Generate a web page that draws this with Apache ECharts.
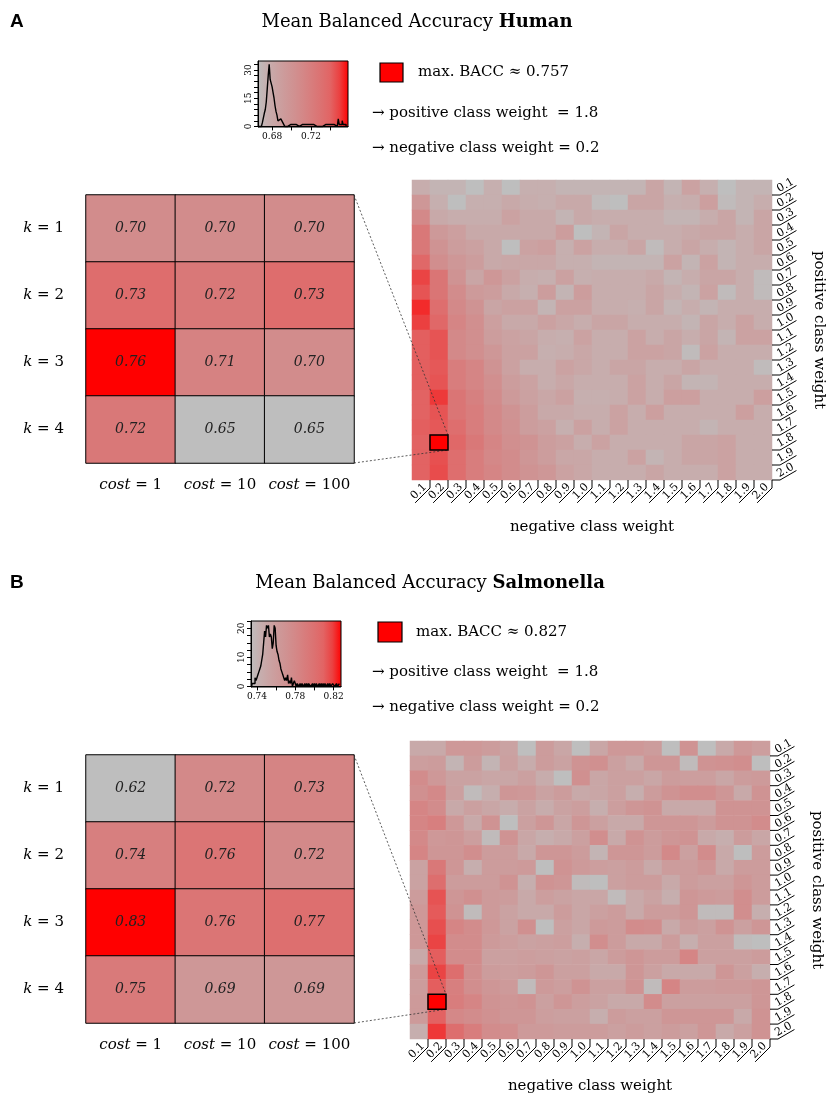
<!DOCTYPE html>
<html><head><meta charset="utf-8">
<script src="https://cdn.jsdelivr.net/npm/echarts@6/dist/echarts.min.js"></script>
<style>html,body{margin:0;padding:0;background:#fff}#c{width:827px;height:1095px}</style>
</head><body><div id="c"></div>
<script>
// ---------------- DATA ----------------
const weightLabels = ['0.1','0.2','0.3','0.4','0.5','0.6','0.7','0.8','0.9','1.0','1.1','1.2','1.3','1.4','1.5','1.6','1.7','1.8','1.9','2.0'];
const kLabels = ['1','2','3','4'];
const costLabels = ['1','10','100'];

const smallHuman = [[0.70,0.70,0.70],[0.73,0.72,0.73],[0.76,0.71,0.70],[0.72,0.65,0.65]];
const smallSalmonella = [[0.62,0.72,0.73],[0.74,0.76,0.72],[0.83,0.76,0.77],[0.75,0.69,0.69]];

// rows: positive class weight 0.1..2.0 ; columns: negative class weight 0.1..2.0
const gridHuman = [
[0.677,0.672,0.672,0.666,0.675,0.666,0.675,0.675,0.672,0.672,0.672,0.672,0.672,0.683,0.672,0.686,0.675,0.666,0.672,0.672],
[0.696,0.675,0.666,0.675,0.675,0.680,0.677,0.675,0.680,0.680,0.668,0.666,0.683,0.683,0.675,0.677,0.689,0.668,0.672,0.677],
[0.710,0.680,0.677,0.677,0.677,0.686,0.680,0.680,0.672,0.680,0.677,0.677,0.677,0.677,0.672,0.672,0.677,0.683,0.672,0.683],
[0.724,0.694,0.689,0.680,0.680,0.680,0.680,0.680,0.691,0.666,0.672,0.683,0.677,0.677,0.677,0.680,0.683,0.683,0.677,0.683],
[0.724,0.700,0.691,0.687,0.680,0.666,0.686,0.689,0.675,0.686,0.677,0.677,0.683,0.668,0.677,0.683,0.677,0.672,0.677,0.683],
[0.736,0.705,0.696,0.691,0.680,0.682,0.682,0.682,0.675,0.675,0.672,0.672,0.672,0.672,0.686,0.672,0.686,0.672,0.677,0.677],
[0.747,0.726,0.700,0.683,0.696,0.687,0.677,0.675,0.687,0.675,0.677,0.677,0.677,0.680,0.672,0.677,0.683,0.683,0.677,0.668],
[0.743,0.726,0.707,0.693,0.691,0.680,0.675,0.691,0.672,0.691,0.677,0.677,0.677,0.683,0.677,0.672,0.686,0.668,0.677,0.668],
[0.751,0.732,0.710,0.700,0.683,0.687,0.687,0.672,0.687,0.687,0.677,0.677,0.675,0.683,0.672,0.677,0.672,0.677,0.677,0.677],
[0.748,0.736,0.713,0.704,0.689,0.680,0.680,0.687,0.682,0.677,0.683,0.683,0.677,0.677,0.677,0.672,0.683,0.677,0.686,0.677],
[0.740,0.743,0.710,0.704,0.691,0.686,0.683,0.677,0.675,0.686,0.677,0.677,0.686,0.677,0.683,0.677,0.683,0.672,0.686,0.686],
[0.740,0.743,0.710,0.704,0.696,0.687,0.687,0.675,0.677,0.682,0.677,0.677,0.686,0.686,0.683,0.668,0.686,0.677,0.677,0.677],
[0.740,0.742,0.720,0.713,0.700,0.687,0.677,0.677,0.686,0.682,0.677,0.683,0.683,0.677,0.677,0.683,0.677,0.677,0.677,0.668],
[0.740,0.743,0.720,0.713,0.704,0.691,0.686,0.677,0.682,0.677,0.677,0.677,0.686,0.677,0.683,0.672,0.672,0.677,0.677,0.677],
[0.739,0.749,0.726,0.717,0.707,0.693,0.687,0.682,0.687,0.675,0.675,0.677,0.686,0.677,0.689,0.689,0.677,0.677,0.677,0.689],
[0.739,0.743,0.726,0.720,0.710,0.700,0.691,0.680,0.680,0.677,0.677,0.686,0.677,0.689,0.677,0.677,0.677,0.677,0.689,0.677],
[0.740,0.742,0.732,0.720,0.710,0.702,0.691,0.687,0.675,0.687,0.677,0.686,0.677,0.677,0.677,0.677,0.672,0.677,0.677,0.677],
[0.739,0.757,0.736,0.724,0.713,0.704,0.700,0.691,0.687,0.677,0.686,0.677,0.677,0.677,0.677,0.683,0.683,0.686,0.677,0.677],
[0.739,0.744,0.732,0.720,0.711,0.707,0.697,0.691,0.682,0.682,0.677,0.677,0.686,0.672,0.677,0.683,0.683,0.686,0.677,0.677],
[0.739,0.745,0.732,0.720,0.713,0.707,0.700,0.696,0.686,0.682,0.677,0.677,0.677,0.683,0.677,0.677,0.677,0.686,0.677,0.677]
];

const gridSalmonella = [
[0.748,0.748,0.764,0.764,0.760,0.754,0.734,0.760,0.751,0.734,0.751,0.764,0.764,0.760,0.734,0.769,0.734,0.748,0.764,0.758],
[0.758,0.760,0.740,0.760,0.740,0.756,0.746,0.760,0.754,0.769,0.772,0.756,0.748,0.766,0.766,0.736,0.769,0.771,0.774,0.734],
[0.776,0.764,0.754,0.754,0.751,0.751,0.756,0.746,0.734,0.772,0.751,0.756,0.756,0.751,0.760,0.758,0.758,0.751,0.760,0.762],
[0.772,0.779,0.756,0.736,0.744,0.766,0.764,0.754,0.760,0.748,0.751,0.756,0.744,0.760,0.769,0.774,0.774,0.766,0.748,0.769],
[0.782,0.776,0.748,0.756,0.751,0.746,0.754,0.746,0.754,0.758,0.744,0.758,0.766,0.769,0.748,0.748,0.748,0.769,0.769,0.769],
[0.782,0.787,0.764,0.748,0.769,0.734,0.756,0.766,0.751,0.766,0.756,0.748,0.748,0.766,0.766,0.766,0.760,0.769,0.769,0.776],
[0.779,0.764,0.766,0.758,0.736,0.769,0.751,0.744,0.748,0.756,0.774,0.748,0.769,0.760,0.766,0.769,0.748,0.744,0.760,0.751],
[0.782,0.766,0.766,0.774,0.760,0.760,0.748,0.766,0.766,0.760,0.740,0.766,0.766,0.760,0.779,0.756,0.776,0.748,0.734,0.760],
[0.754,0.793,0.766,0.744,0.760,0.760,0.762,0.734,0.769,0.762,0.758,0.756,0.760,0.748,0.760,0.760,0.766,0.748,0.760,0.760],
[0.754,0.801,0.760,0.760,0.760,0.769,0.744,0.769,0.766,0.736,0.734,0.756,0.760,0.760,0.748,0.760,0.756,0.756,0.766,0.760],
[0.760,0.813,0.766,0.772,0.762,0.760,0.748,0.758,0.754,0.751,0.751,0.736,0.748,0.754,0.744,0.766,0.762,0.760,0.774,0.760],
[0.764,0.811,0.769,0.736,0.762,0.754,0.748,0.748,0.760,0.751,0.756,0.760,0.748,0.760,0.760,0.766,0.736,0.736,0.774,0.744],
[0.764,0.814,0.782,0.776,0.764,0.754,0.772,0.734,0.756,0.751,0.762,0.760,0.776,0.774,0.748,0.760,0.756,0.769,0.756,0.766],
[0.764,0.817,0.776,0.776,0.762,0.758,0.754,0.756,0.758,0.744,0.774,0.760,0.748,0.748,0.760,0.744,0.756,0.756,0.736,0.734],
[0.748,0.810,0.776,0.776,0.756,0.756,0.758,0.756,0.754,0.756,0.751,0.760,0.766,0.760,0.760,0.782,0.756,0.756,0.756,0.760],
[0.762,0.817,0.801,0.774,0.760,0.758,0.760,0.766,0.756,0.756,0.748,0.748,0.766,0.756,0.748,0.748,0.748,0.766,0.756,0.744],
[0.760,0.810,0.787,0.774,0.766,0.762,0.736,0.762,0.758,0.769,0.756,0.756,0.769,0.736,0.782,0.760,0.760,0.762,0.762,0.766],
[0.762,0.827,0.789,0.782,0.769,0.766,0.769,0.756,0.766,0.758,0.754,0.748,0.748,0.776,0.756,0.756,0.756,0.756,0.756,0.766],
[0.762,0.809,0.780,0.776,0.771,0.766,0.766,0.758,0.756,0.756,0.744,0.760,0.756,0.756,0.766,0.766,0.766,0.766,0.748,0.769],
[0.744,0.819,0.801,0.789,0.776,0.774,0.762,0.762,0.760,0.760,0.760,0.756,0.760,0.756,0.760,0.756,0.766,0.748,0.756,0.769]
];

// histogram of BACC values (bin width 0.001)
const histBinWidth = 0.001;
const histHumanStart = 0.666;
const histHumanCounts = [
0,1,0,1,2,3,7,9,13,20,
27,33,25,24,21,18,15,11,8,6,
3,2,4,5,3,2,1,0,1,0,
1,0,1,1,0,1,1,0,1,1,
1,0,1,1,1,0,1,1,0,1,
1,1,0,1,1,0,1,1,1,0,
1,1,0,1,1,0,1,1,1,0,
1,1,0,1,1,1,0,1,2,1,
0,1,4,1,0,1,3,1,2,1,0];
const histSalmonellaStart = 0.734;
const histSalmonellaCounts = [
0,1,1,1,3,2,3,4,5,6,
7,9,11,15,19,17,21,20,21,17,
18,17,13,15,21,20,14,12,11,9,
8,6,5,4,3,2,3,2,4,1,
2,1,3,0,1,2,1,0,1,1,
0,1,0,1,1,0,1,0,1,0,
1,1,0,0,1,0,1,0,1,0,
0,1,0,1,0,1,0,1,0,0,
1,0,1,0,0,1,1,0,0,1,
0,0,1];

const histHumanXRange = [0.6655, 0.758];
const histHumanYRange = [-0.3, 34.8];
const histHumanXTicks = [0.68, 0.70, 0.72, 0.74];
const histHumanXLabels = [0.68, 0.72];
const histHumanYTicks = [0,3,6,9,12,15,18,21,24,27,30,33];
const histHumanYLabels = [0, 15, 30];

const histSalmonellaXRange = [0.7338, 0.8277];
const histSalmonellaYRange = [-0.2, 22.5];
const histSalmonellaXTicks = [0.74, 0.76, 0.78, 0.80, 0.82];
const histSalmonellaXLabels = [0.74, 0.78, 0.82];
const histSalmonellaYTicks = [0,2.5,5,7.5,10,12.5,15,17.5,20,22.5];
const histSalmonellaYLabels = [0, 10, 20];

// grey -> red colour ramp
const palette = ['#bebebe','rgb(198,175,175)','rgb(202,164,164)','rgb(205,154,154)','rgb(208,145,145)',
  'rgb(212,135,135)','rgb(216,124,124)','rgb(220,113,113)','rgb(226,100,100)','rgb(235,65,65)','#ff0000'];

// ---------------- LAYOUT ----------------
const FONT = 'DejaVu Serif';
const panels = [
  { letter:'A', name:'Human', small:smallHuman, big:gridHuman,
    histStart:histHumanStart, histCounts:histHumanCounts, xr:histHumanXRange, yr:histHumanYRange,
    xt:histHumanXTicks, xl:histHumanXLabels, yt:histHumanYTicks, yl:histHumanYLabels,
    L:{ letter:[10,22], title:[417,22], hist:[258,61,90,66], rect:[380,63,23,19], maxText:[418,72.5],
        posText:[372,113], negText:[372,148], small:[86,195,268,268], big:[412,180,360,300] } },
  { letter:'B', name:'Salmonella', small:smallSalmonella, big:gridSalmonella,
    histStart:histSalmonellaStart, histCounts:histSalmonellaCounts, xr:histSalmonellaXRange, yr:histSalmonellaYRange,
    xt:histSalmonellaXTicks, xl:histSalmonellaXLabels, yt:histSalmonellaYTicks, yl:histSalmonellaYLabels,
    L:{ letter:[10,583], title:[430,583], hist:[251,621,90,66], rect:[378,622,24,20], maxText:[416,632],
        posText:[372,672], negText:[372,707], small:[86,755,268,268], big:[410,741,360,300] } }
];

// ---------------- BUILD ----------------
function stats(m){ let mn=Infinity,mx=-Infinity,ai=0,aj=0;
  m.forEach((row,j)=>row.forEach((v,i)=>{ if(v<mn)mn=v; if(v>mx){mx=v;ai=i;aj=j;} }));
  return {mn,mx,ai,aj}; }

const grids=[], xAxes=[], yAxes=[], series=[], visualMaps=[], graphics=[];
const gradStops = palette.map((c,i)=>({offset:i/(palette.length-1), color:c}));
const txt = (extra) => Object.assign({fontFamily:FONT, color:'#000'}, extra);

panels.forEach((P, pi) => {
  const L = P.L;
  const bs = stats(P.big), ss = stats(P.small);
  P.bs = bs;
  // histogram
  const gh = grids.length; P.gh = gh;
  grids.push({left:L.hist[0], top:L.hist[1], width:L.hist[2], height:L.hist[3], show:true,
    borderColor:'#000', borderWidth:1,
    backgroundColor:new echarts.graphic.LinearGradient(0,0,1,0,gradStops)});
  xAxes.push({gridIndex:gh, type:'value', min:P.xr[0], max:P.xr[1],
    axisLine:{show:true, lineStyle:{color:'#000', width:1}},
    axisTick:{show:true, length:4, customValues:P.xt, lineStyle:{color:'#000'}},
    axisLabel:{customValues:P.xl, formatter:v=>Number(v).toFixed(2), fontSize:9, margin:5, fontFamily:FONT, color:'#000'},
    splitLine:{show:false}});
  yAxes.push({gridIndex:gh, type:'value', min:P.yr[0], max:P.yr[1],
    axisLine:{show:true, lineStyle:{color:'#000', width:1}},
    axisTick:{show:true, length:4, customValues:P.yt, lineStyle:{color:'#000'}},
    axisLabel:{customValues:P.yl, rotate:90, fontSize:9, margin:5, fontFamily:FONT, color:'#000'},
    splitLine:{show:false}});
  series.push({type:'line', xAxisIndex:gh, yAxisIndex:gh, step:'middle', symbol:'none', silent:true,
    lineStyle:{color:'#000', width:1.4},
    data:P.histCounts.map((c,i)=>[P.histStart+(i+0.5)*histBinWidth, c])});

  // small k x cost heatmap
  const gs = grids.length; P.gs = gs;
  grids.push({left:L.small[0], top:L.small[1], width:L.small[2], height:L.small[3]});
  const rich = {i:{fontStyle:'italic', fontSize:15, fontFamily:FONT, color:'#000'}};
  xAxes.push({gridIndex:gs, type:'category', data:costLabels, axisLine:{show:false}, axisTick:{show:false},
    axisLabel:{interval:0, hideOverlap:false, formatter:v=>'{i|cost} = '+v, rich, fontSize:15, fontFamily:FONT, color:'#000', margin:15}, splitLine:{show:false}});
  yAxes.push({gridIndex:gs, type:'category', data:kLabels, inverse:true, axisLine:{show:false}, axisTick:{show:false},
    axisLabel:{interval:0, formatter:v=>'{i|k} = '+v, rich, fontSize:15, fontFamily:FONT, color:'#000', margin:22}, splitLine:{show:false}});
  visualMaps.push({show:false, seriesIndex:series.length, dimension:2, min:ss.mn, max:ss.mx, inRange:{color:palette}});
  series.push({type:'heatmap', xAxisIndex:gs, yAxisIndex:gs, silent:true,
    data:P.small.flatMap((row,j)=>row.map((v,i)=>[i,j,v])),
    itemStyle:{borderColor:'#000', borderWidth:1},
    label:{show:true, formatter:p=>p.value[2].toFixed(2), fontStyle:'italic', fontSize:14, fontFamily:FONT, color:'#222'},
    emphasis:{disabled:true}});

  // big weight heatmap
  const gb = grids.length; P.gb = gb;
  grids.push({left:L.big[0], top:L.big[1], width:L.big[2], height:L.big[3]});
  xAxes.push({gridIndex:gb, type:'category', data:weightLabels, axisLine:{show:false}, axisTick:{show:false},
    axisLabel:{show:false}, splitLine:{show:false},
    name:'negative class weight', nameLocation:'middle', nameGap:40, nameTextStyle:txt({fontSize:15})});
  yAxes.push({gridIndex:gb, type:'category', data:weightLabels, inverse:true, position:'right',
    axisLine:{show:false}, axisTick:{show:false}, axisLabel:{show:false}, splitLine:{show:false},
    name:'positive class weight', nameLocation:'middle', nameRotate:-90, nameGap:39, nameTextStyle:txt({fontSize:15})});
  visualMaps.push({show:false, seriesIndex:series.length, dimension:2, min:bs.mn, max:bs.mx, inRange:{color:palette}});
  series.push({type:'heatmap', xAxisIndex:gb, yAxisIndex:gb, silent:true, progressive:0,
    data:P.big.flatMap((row,j)=>row.map((v,i)=>[i,j,v])), itemStyle:{borderWidth:0}, emphasis:{disabled:true}});
  // highlighted maximum
  series.push({type:'custom', xAxisIndex:gb, yAxisIndex:gb, silent:true, z:5,
    data:[[bs.ai, bs.aj]],
    renderItem:(params, api)=>{ const c=api.coord([api.value(0), api.value(1)]); const s=api.size([1,1]);
      return {type:'rect', shape:{x:c[0]-s[0]/2, y:c[1]-s[1]/2, width:s[0], height:s[1]},
        style:{fill:'#ff0000', stroke:'#000', lineWidth:1.5}}; }});
  // bottom tick labels (negative class weight)
  series.push({type:'custom', xAxisIndex:gb, yAxisIndex:gb, silent:true, z:4,
    data:weightLabels.map((w,i)=>[i, weightLabels.length-1]),
    renderItem:(params, api)=>{ const c=api.coord([api.value(0), api.value(1)]); const s=api.size([1,1]);
      const xb=c[0]+s[0]/2, yb=c[1]+s[1]/2, t=8, d=21, a=Math.PI/4;
      const x2=xb-d*Math.cos(a), y2=yb+t+d*Math.sin(a);
      return {type:'group', children:[
        {type:'polyline', shape:{points:[[xb,yb],[xb,yb+t],[x2,y2]]}, style:{stroke:'#000', fill:'none', lineWidth:1}},
        {type:'text', x:(xb+x2)/2, y:(yb+t+y2)/2, rotation:a,
          style:{text:weightLabels[params.dataIndex], fontSize:11, fontFamily:FONT, fill:'#000', align:'center', verticalAlign:'bottom'}}
      ]}; }});
  // right tick labels (positive class weight)
  series.push({type:'custom', xAxisIndex:gb, yAxisIndex:gb, silent:true, z:4,
    data:weightLabels.map((w,j)=>[weightLabels.length-1, j]),
    renderItem:(params, api)=>{ const c=api.coord([api.value(0), api.value(1)]); const s=api.size([1,1]);
      const xr=c[0]+s[0]/2, yb=c[1]+s[1]/2, t=8, d=19, a=Math.PI/6;
      const x1=xr+t, x2=x1+d*Math.cos(a), y2=yb-d*Math.sin(a);
      return {type:'group', children:[
        {type:'polyline', shape:{points:[[xr,yb],[x1,yb],[x2,y2]]}, style:{stroke:'#000', fill:'none', lineWidth:1}},
        {type:'text', x:(x1+x2)/2, y:(yb+y2)/2, rotation:a,
          style:{text:weightLabels[params.dataIndex], fontSize:11, fontFamily:FONT, fill:'#000', align:'center', verticalAlign:'bottom'}}
      ]}; }});

  // texts
  graphics.push({type:'text', x:L.letter[0], y:L.letter[1], style:{text:P.letter, fontSize:19, fontWeight:'bold',
    fontFamily:'Liberation Sans', fill:'#000', verticalAlign:'middle'}});
  graphics.push({type:'text', x:L.title[0], y:L.title[1], style:{text:'Mean Balanced Accuracy {b|'+P.name+'}',
    fontSize:18, fontFamily:FONT, fill:'#000', align:'center', verticalAlign:'middle',
    rich:{b:{fontSize:18, fontFamily:FONT, fontWeight:'bold', fill:'#000'}}}});
  graphics.push({type:'rect', shape:{x:L.rect[0], y:L.rect[1], width:L.rect[2], height:L.rect[3]},
    style:{fill:'#ff0000', stroke:'#000', lineWidth:1.2}});
  graphics.push({type:'text', x:L.maxText[0], y:L.maxText[1], style:{text:'max. BACC \u2248 '+bs.mx.toFixed(3),
    fontSize:15, fontFamily:FONT, fill:'#000', verticalAlign:'middle'}});
  graphics.push({type:'text', x:L.posText[0], y:L.posText[1], style:{text:'\u2192 positive class weight  = '+weightLabels[bs.aj],
    fontSize:15, fontFamily:FONT, fill:'#000', verticalAlign:'middle'}});
  graphics.push({type:'text', x:L.negText[0], y:L.negText[1], style:{text:'\u2192 negative class weight = '+weightLabels[bs.ai],
    fontSize:15, fontFamily:FONT, fill:'#000', verticalAlign:'middle'}});
});

const chart = echarts.init(document.getElementById('c'), null, {width:827, height:1095});
const option = {
  animation:false, backgroundColor:'#fff',
  textStyle:{fontFamily:FONT},
  grid:grids, xAxis:xAxes, yAxis:yAxes, visualMap:visualMaps, series:series,
  graphic:{elements:graphics}
};
chart.setOption(option);

// dotted connectors from small heatmap (k=3, cost=1 panel) to the maximum cell
panels.forEach(P => {
  const px = (ax, v) => chart.convertToPixel({xAxisIndex:ax, yAxisIndex:ax}, v);
  const s0 = px(P.gs,[0,0]), s1 = px(P.gs,[1,1]);
  const sw = s1[0]-s0[0], sh = s1[1]-s0[1];
  const sTop = px(P.gs,[costLabels.length-1,0]), sBot = px(P.gs,[costLabels.length-1,kLabels.length-1]);
  const b0 = px(P.gb,[0,0]), b1 = px(P.gb,[1,1]);
  const bw = b1[0]-b0[0], bh = b1[1]-b0[1];
  const m = px(P.gb,[P.bs.ai, P.bs.aj]);
  const st = {stroke:'#333', lineWidth:0.8, lineDash:[2,2]};
  graphics.push({type:'line', z:3, shape:{x1:sTop[0]+sw/2, y1:sTop[1]-sh/2, x2:m[0]+bw/2, y2:m[1]-bh/2}, style:st});
  graphics.push({type:'line', z:3, shape:{x1:sBot[0]+sw/2, y1:sBot[1]+sh/2, x2:m[0]+bw/2, y2:m[1]+bh/2}, style:st});
});
chart.setOption({graphic:{elements:graphics}}, {replaceMerge:['graphic']});
</script></body></html>
